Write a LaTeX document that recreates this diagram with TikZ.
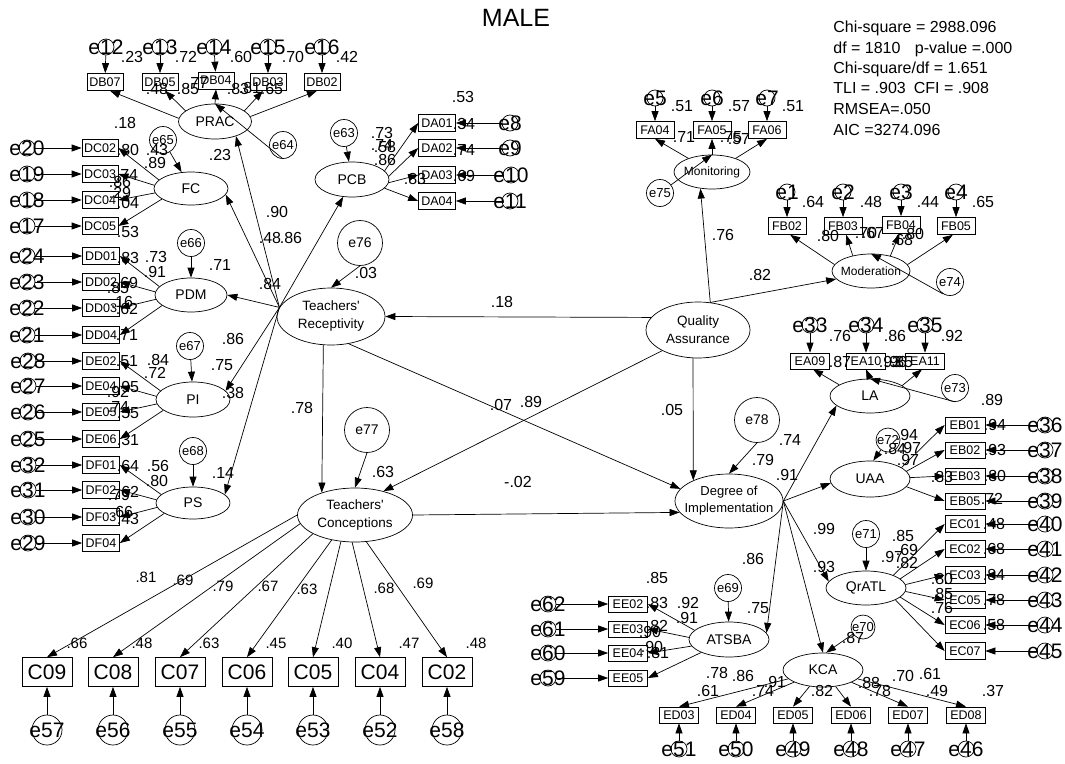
\documentclass[tikz,border=0pt]{standalone}
\usepackage{fontspec}
\setmainfont{Liberation Sans}
\usetikzlibrary{arrows.meta,shapes.geometric}

% error term: small circle with a large label over it
\newcommand{\semerr}[3]{\node[errs] (#1) at (#2,#3) {};\node[etx] (#1t) at (#2,#3) {#1};}
\newcommand{\semerrb}[3]{\node[errb] (#1) at (#2,#3) {};\node[etx] (#1t) at (#2,#3) {#1};}
% latent variable: ellipse plus centred caption
\newcommand{\semlat}[7]{\node[lat={#4pt}{#5pt}] (#1) at (#2,#3) {};\node[ltx,#6] (#1t) at (#1) {#7};}
% estimate labels
\newcounter{semlbl}
\newcommand{\semnum}[3]{\stepcounter{semlbl}\node[nm] (lbl\arabic{semlbl}) at (#1,#2) {#3};}
\newcommand{\semnums}[3]{\stepcounter{semlbl}\node[nms] (lbl\arabic{semlbl}) at (#1,#2) {#3};}

\begin{document}
\begin{tikzpicture}[x=1pt,y=-1pt,line width=0.7pt,
  box/.style={draw, rectangle, inner sep=0pt, minimum width=37pt, minimum height=17pt, font=\fontsize{12.5}{13}\selectfont},
  cbox/.style={draw, rectangle, inner sep=0pt, minimum width=50pt, minimum height=29pt, font=\fontsize{21}{22}\selectfont},
  lat/.style 2 args={draw, ellipse, inner sep=0pt, minimum width=#1, minimum height=#2},
  ltx/.style={inner sep=0pt, align=center, font=\fontsize{14}{18}\selectfont},
  two/.style={font=\fontsize{13.5}{18}\selectfont},
  twos/.style={font=\fontsize{13}{17}\selectfont},
  sml/.style={font=\fontsize{12}{14}\selectfont},
  errs/.style={draw, circle, inner sep=0pt, minimum size=16pt},
  errb/.style={draw, circle, inner sep=0pt, minimum size=30pt},
  etx/.style={inner sep=0pt, font=\fontsize{21}{21}\selectfont},
  rerr/.style={draw, circle, inner sep=0pt, minimum size=27pt, font=\fontsize{13}{13}\selectfont},
  berr/.style={draw, circle, inner sep=0pt, minimum size=45pt, font=\fontsize{14}{14}\selectfont},
  nm/.style={inner sep=0pt, font=\fontsize{16}{16}\selectfont},
  nms/.style={inner sep=0pt, font=\fontsize{15}{15}\selectfont},
  fit/.style={inner sep=0pt, anchor=base west, font=\fontsize{16}{16}\selectfont},
  arr/.style={-{Triangle[length=10pt,width=7pt]}}
]
\fill[white] (0,0) rectangle (1065,763);
\useasboundingbox (0,0) rectangle (1065,763);

% ---------- title and fit indices ----------
\node[inner sep=0pt, font=\fontsize{25}{25}\selectfont] (title) at (516,18) {MALE};
\node[fit] (fit1) at (833,32) {Chi-square = 2988.096};
\node[fit] (fit2) at (833,53) {df = 1810\hspace{0.9em}p-value =.000};
\node[fit] (fit3) at (833,73) {Chi-square/df = 1.651};
\node[fit] (fit4) at (833,93) {TLI = .903\hspace{0.5em}CFI = .908};
\node[fit] (fit5) at (833,114) {RMSEA=.050};
\node[fit] (fit6) at (833,135) {AIC =3274.096};

% ---------- PRAC ----------
\semlat{PRAC}{215}{121.5}{73}{35}{}{PRAC}
\node[box,minimum width=36pt] (DB07) at (105,82) {DB07};
\node[box,minimum width=36pt] (DB05) at (160,82) {DB05};
\node[box,minimum width=36pt] (DB04) at (216,80.5) {DB04};
\node[box,minimum width=36pt] (DB03) at (268,82) {DB03};
\node[box,minimum width=36pt] (DB02) at (322,82) {DB02};
\semerr{e12}{106}{47}\semerr{e13}{160}{47}\semerr{e14}{214}{47}\semerr{e15}{268}{47}\semerr{e16}{322}{47}
\node[rerr] (e64) at (283,145) {e64};
\draw[arr] (e12) -- (DB07); \draw[arr] (e13) -- (DB05); \draw[arr] (e14) -- (DB04);
\draw[arr] (e15) -- (DB03); \draw[arr] (e16) -- (DB02);
\draw[arr] (PRAC.175) -- (DB07.300);
\draw[arr] (PRAC.160) -- (DB05.300);
\draw[arr] (PRAC.north) -- (DB04.south);
\draw[arr] (PRAC.20) -- (DB03.240);
\draw[arr] (PRAC.8) -- (DB02.240);
\draw[arr] (e64.south) -- (PRAC.north);

% ---------- FC ----------
\semlat{FC}{191}{188.5}{74}{33}{}{FC}
\node[rerr] (e65) at (163,140) {e65};
\node[box,minimum width=36pt] (DC02) at (100,148) {DC02};
\node[box,minimum width=36pt] (DC03) at (100,174) {DC03};
\node[box,minimum width=36pt] (DC04) at (100,200) {DC04};
\node[box,minimum width=36pt] (DC05) at (100,226) {DC05};
\semerr{e20}{27}{148}\semerr{e19}{27}{174}\semerr{e18}{27}{200}\semerr{e17}{27}{226}
\draw[arr] (e20) -- (DC02); \draw[arr] (e19) -- (DC03); \draw[arr] (e18) -- (DC04); \draw[arr] (e17) -- (DC05);
\draw[arr] (FC.165) -- (DC02.east); \draw[arr] (FC.175) -- (DC03.east);
\draw[arr] (FC.187) -- (DC04.east); \draw[arr] (FC.200) -- (DC05.east);
\draw[arr] (e65) -- (FC);

% ---------- PDM ----------
\semlat{PDM}{191}{295}{72}{34}{}{PDM}
\node[rerr] (e66) at (191,243) {e66};
\node[box] (DD01) at (101,256) {DD01};
\node[box] (DD02) at (101,282) {DD02};
\node[box] (DD03) at (101,308) {DD03};
\node[box] (DD04) at (101,335) {DD04};
\semerr{e24}{27}{256}\semerr{e23}{27}{282}\semerr{e22}{27}{308}\semerr{e21}{27}{335}
\draw[arr] (e24) -- (DD01); \draw[arr] (e23) -- (DD02); \draw[arr] (e22) -- (DD03); \draw[arr] (e21) -- (DD04);
\draw[arr] (PDM.165) -- (DD01.east); \draw[arr] (PDM.175) -- (DD02.east);
\draw[arr] (PDM.187) -- (DD03.east); \draw[arr] (PDM.200) -- (DD04.east);
\draw[arr] (e66) -- (PDM);

% ---------- PI ----------
\semlat{PI}{193}{399.5}{74}{35}{}{PI}
\node[rerr] (e67) at (190,346) {e67};
\node[box] (DE02) at (101,361) {DE02};
\node[box] (DE04) at (101,386) {DE04};
\node[box] (DE05) at (101,412) {DE05};
\node[box] (DE06) at (101,439) {DE06};
\semerr{e28}{28}{361}\semerr{e27}{28}{386}\semerr{e26}{28}{412}\semerr{e25}{28}{439}
\draw[arr] (e28) -- (DE02); \draw[arr] (e27) -- (DE04); \draw[arr] (e26) -- (DE05); \draw[arr] (e25) -- (DE06);
\draw[arr] (PI.165) -- (DE02.east); \draw[arr] (PI.175) -- (DE04.east);
\draw[arr] (PI.187) -- (DE05.east); \draw[arr] (PI.200) -- (DE06.east);
\draw[arr] (e67) -- (PI);

% ---------- PS ----------
\semlat{PS}{193}{503}{74}{32}{}{PS}
\node[rerr] (e68) at (193,451) {e68};
\node[box] (DF01) at (101,465) {DF01};
\node[box] (DF02) at (101,490) {DF02};
\node[box] (DF03) at (101,517) {DF03};
\node[box] (DF04) at (101,543) {DF04};
\semerr{e32}{28}{465}\semerr{e31}{28}{490}\semerr{e30}{28}{517}\semerr{e29}{28}{543}
\draw[arr] (e32) -- (DF01); \draw[arr] (e31) -- (DF02); \draw[arr] (e30) -- (DF03); \draw[arr] (e29) -- (DF04);
\draw[arr] (PS.165) -- (DF01.east); \draw[arr] (PS.175) -- (DF02.east);
\draw[arr] (PS.187) -- (DF03.east); \draw[arr] (PS.200) -- (DF04.east);
\draw[arr] (e68) -- (PS);

% ---------- PCB ----------
\semlat{PCB}{352}{179.5}{74}{35}{}{PCB}
\node[rerr] (e63) at (344,133) {e63};
\node[box] (DA01) at (437,123) {DA01};
\node[box] (DA02) at (437,148) {DA02};
\node[box] (DA03) at (437,175) {DA03};
\node[box] (DA04) at (437,201) {DA04};
\semerr{e8}{510}{123}\semerr{e9}{510}{148}\semerr{e10}{511}{175}\semerr{e11}{510}{201}
\draw[arr] (e8) -- (DA01); \draw[arr] (e9) -- (DA02); \draw[arr] (e10) -- (DA03); \draw[arr] (e11) -- (DA04);
\draw[arr] (PCB.15) -- (DA01.west); \draw[arr] (PCB.5) -- (DA02.west);
\draw[arr] (PCB.355) -- (DA03.west); \draw[arr] (PCB.345) -- (DA04.west);
\draw[arr] (e63) -- (PCB);

% ---------- second order and structural part ----------
\semlat{TR}{331}{316.5}{108}{57}{two}{Teachers\textquotesingle\\Receptivity}
\semlat{TC}{355}{515}{115}{54}{two}{Teachers\textquotesingle\\Conceptions}
\semlat{QA}{698}{330}{104}{56}{two}{Quality\\Assurance}
\semlat{DoI}{729}{501}{108}{54}{twos}{Degree of\\Implementation}
\node[berr] (e76) at (360,243) {e76};
\node[berr] (e77) at (367,430) {e77};
\node[berr] (e78) at (757,420) {e78};

\draw[arr] (TR.170) -- (PRAC.325);
\draw[arr] (TR.170) -- (FC.350);
\draw[arr] (TR.170) -- (PDM.east);
\draw[arr] (TR.170) -- (PI.15);
\draw[arr] (TR.170) -- (PS.15);
\draw[arr] (TR.170) -- (PCB.243);
\draw[arr] (e76.south) -- (TR.north);
\draw[arr] (QA.165) -- (TR.east);
\draw[arr] (TR.255) -- (TC.146);
\draw[arr] (TR.303) -- (DoI.166);
\draw[arr] (QA.210) -- (TC.40);
\draw[arr] (QA.260) -- (DoI.150);
\draw[arr] (TC.east) -- (DoI.193);
\draw[arr] (e77.south) -- (TC.north);
\draw[arr] (e78.south) -- (DoI.north);

% ---------- Monitoring ----------
\semlat{Monitoring}{712}{172}{76}{34}{sml}{Monitoring}
\node[rerr] (e75) at (660,193) {e75};
\node[box,minimum width=38pt] (FA04) at (655,130) {FA04};
\node[box,minimum width=38pt] (FA05) at (712,130) {FA05};
\node[box,minimum width=38pt] (FA06) at (767,130) {FA06};
\semerr{e5}{655}{98}\semerr{e6}{712}{98}\semerr{e7}{767}{98}
\draw[arr] (e5) -- (FA04); \draw[arr] (e6) -- (FA05); \draw[arr] (e7) -- (FA06);
\draw[arr] (Monitoring.150) -- (FA04.south);
\draw[arr] (Monitoring.north) -- (FA05.south);
\draw[arr] (Monitoring.30) -- (FA06.south);
\draw[arr] (e75) -- (Monitoring.north);
\draw[arr] (QA.66) -- (Monitoring.235);

% ---------- Moderation ----------
\semlat{Moderation}{871}{271}{78}{34}{sml}{Moderation}
\node[rerr] (e74) at (950,282) {e74};
\node[box,minimum width=38pt] (FB02) at (787,226) {FB02};
\node[box,minimum width=38pt] (FB03) at (843,226) {FB03};
\node[box,minimum width=38pt] (FB04) at (901,225) {FB04};
\node[box,minimum width=38pt] (FB05) at (956,226) {FB05};
\semerr{e1}{787}{192}\semerr{e2}{843}{192}\semerr{e3}{901}{192}\semerr{e4}{956}{192}
\draw[arr] (e1) -- (FB02); \draw[arr] (e2) -- (FB03); \draw[arr] (e3) -- (FB04); \draw[arr] (e4) -- (FB05);
\draw[arr] (Moderation.170) -- (FB02.290);
\draw[arr] (Moderation.140) -- (FB03.290);
\draw[arr] (Moderation.38) -- (FB04.260);
\draw[arr] (Moderation.10) -- (FB05.250);
\draw[arr] (e74.240) -- (Moderation.north);
\draw[arr] (QA.66) -- (Moderation.193);

% ---------- LA ----------
\semlat{LA}{870}{396}{80}{34}{}{LA}
\node[rerr] (e73) at (955,388) {e73};
\node[box,minimum width=39pt,minimum height=16pt] (EA09) at (810,361) {EA09};
\node[box,minimum width=39pt,minimum height=16pt] (EA10) at (866,361) {EA10};
\node[box,minimum width=39pt,minimum height=16pt] (EA11) at (925,361) {EA11};
\semerr{e33}{810}{325}\semerr{e34}{866}{325}\semerr{e35}{925}{325}
\draw[arr] (e33) -- (EA09); \draw[arr] (e34) -- (EA10); \draw[arr] (e35) -- (EA11);
\draw[arr] (LA.160) -- (EA09.290);
\draw[arr] (LA.north) -- (EA10.south);
\draw[arr] (LA.18) -- (EA11.250);
\draw[arr] (e73.south) -- (LA.north);

% ---------- UAA ----------
\semlat{UAA}{870}{479}{80}{36}{}{UAA}
\node[rerr,minimum size=24pt] (e72) at (888,440) {e72};
\node[box,minimum width=40pt,minimum height=16pt] (EB01) at (965,425) {EB01};
\node[box,minimum width=40pt,minimum height=16pt] (EB02) at (965,450) {EB02};
\node[box,minimum width=40pt,minimum height=16pt] (EB03) at (965,476) {EB03};
\node[box,minimum width=40pt,minimum height=16pt] (EB05) at (965,501) {EB05};
\semerr{e36}{1045}{425}\semerr{e37}{1045}{450}\semerr{e38}{1045}{476}\semerr{e39}{1045}{501}
\draw[arr] (e36) -- (EB01); \draw[arr] (e37) -- (EB02); \draw[arr] (e38) -- (EB03); \draw[arr] (e39) -- (EB05);
\draw[arr] (UAA.20) -- (EB01.west); \draw[arr] (UAA.12) -- (EB02.west);
\draw[arr] (UAA.2) -- (EB03.west); \draw[arr] (UAA.348) -- (EB05.west);
\draw[arr] (e72) -- (UAA.80);

% ---------- QrATL ----------
\semlat{QrATL}{866}{588}{80}{34}{}{QrATL}
\node[rerr] (e71) at (866,534) {e71};
\node[box,minimum width=40pt] (EC01) at (965,524) {EC01};
\node[box,minimum width=40pt] (EC02) at (965,549) {EC02};
\node[box,minimum width=40pt] (EC03) at (965,575) {EC03};
\node[box,minimum width=40pt] (EC05) at (965,600) {EC05};
\node[box,minimum width=40pt] (EC06) at (965,625) {EC06};
\node[box,minimum width=40pt] (EC07) at (965,651) {EC07};
\semerr{e40}{1045}{524}\semerr{e41}{1045}{549}\semerr{e42}{1045}{575}
\semerr{e43}{1045}{600}\semerr{e44}{1045}{625}\semerr{e45}{1045}{651}
\draw[arr] (e40) -- (EC01); \draw[arr] (e41) -- (EC02); \draw[arr] (e42) -- (EC03);
\draw[arr] (e43) -- (EC05); \draw[arr] (e44) -- (EC06); \draw[arr] (e45) -- (EC07);
\draw[arr] (QrATL.25) -- (EC01.west); \draw[arr] (QrATL.15) -- (EC02.west);
\draw[arr] (QrATL.5) -- (EC03.west); \draw[arr] (QrATL.355) -- (EC05.west);
\draw[arr] (QrATL.345) -- (EC06.west); \draw[arr] (QrATL.338) -- (EC07.west);
\draw[arr] (e71) -- (QrATL);

% ---------- ATSBA ----------
\semlat{ATSBA}{729}{639.5}{80}{35}{}{ATSBA}
\node[rerr] (e69) at (728,588) {e69};
\node[box,minimum width=39pt,minimum height=16pt] (EE02) at (628,604) {EE02};
\node[box,minimum width=39pt,minimum height=16pt] (EE03) at (628,629) {EE03};
\node[box,minimum width=39pt,minimum height=16pt] (EE04) at (628,653) {EE04};
\node[box,minimum width=39pt,minimum height=16pt] (EE05) at (628,678) {EE05};
\semerr{e62}{548}{604}\semerr{e61}{548}{629}\semerr{e60}{548}{653}\semerr{e59}{548}{678}
\draw[arr] (e62) -- (EE02); \draw[arr] (e61) -- (EE03); \draw[arr] (e60) -- (EE04); \draw[arr] (e59) -- (EE05);
\draw[arr] (ATSBA.165) -- (EE02.east); \draw[arr] (ATSBA.177) -- (EE03.east);
\draw[arr] (ATSBA.190) -- (EE04.east); \draw[arr] (ATSBA.205) -- (EE05.east);
\draw[arr] (e69) -- (ATSBA);

% ---------- KCA ----------
\semlat{KCA}{823}{670}{80}{34}{}{KCA}
\node[rerr,minimum size=24pt] (e70) at (863,627) {e70};
\node[box,minimum width=39pt,minimum height=16pt] (ED03) at (679,715) {ED03};
\node[box,minimum width=39pt,minimum height=16pt] (ED04) at (736,715) {ED04};
\node[box,minimum width=39pt,minimum height=16pt] (ED05) at (793,715) {ED05};
\node[box,minimum width=39pt,minimum height=16pt] (ED06) at (851,715) {ED06};
\node[box,minimum width=39pt,minimum height=16pt] (ED07) at (908,715) {ED07};
\node[box,minimum width=39pt,minimum height=16pt] (ED08) at (966,715) {ED08};
\semerr{e51}{679}{749}\semerr{e50}{736}{749}\semerr{e49}{793}{749}
\semerr{e48}{851}{749}\semerr{e47}{908}{749}\semerr{e46}{966}{749}
\draw[arr] (e51) -- (ED03); \draw[arr] (e50) -- (ED04); \draw[arr] (e49) -- (ED05);
\draw[arr] (e48) -- (ED06); \draw[arr] (e47) -- (ED07); \draw[arr] (e46) -- (ED08);
\draw[arr] (KCA) -- (ED03.north); \draw[arr] (KCA) -- (ED04.north); \draw[arr] (KCA) -- (ED05.north);
\draw[arr] (KCA) -- (ED06.north); \draw[arr] (KCA) -- (ED07.north); \draw[arr] (KCA) -- (ED08.north);
\draw[arr] (e70) -- (KCA.80);

% ---------- Degree of Implementation to its dimensions ----------
\draw[arr] (DoI.east) -- (LA.196);
\draw[arr] (DoI.east) -- (UAA.186);
\draw[arr] (DoI.east) -- (QrATL.170);
\draw[arr] (DoI.east) -- (ATSBA.10);
\draw[arr] (DoI.east) -- (KCA.north);

% ---------- Teachers' Conceptions indicators ----------
\node[cbox] (C09) at (47,672) {C09};
\node[cbox] (C08) at (113,672) {C08};
\node[cbox] (C07) at (180,672) {C07};
\node[cbox] (C06) at (247,672) {C06};
\node[cbox] (C05) at (313,672) {C05};
\node[cbox] (C04) at (380,672) {C04};
\node[cbox] (C02) at (447,672) {C02};
\semerrb{e57}{47}{730}\semerrb{e56}{113}{730}\semerrb{e55}{180}{730}\semerrb{e54}{247}{730}
\semerrb{e53}{313}{730}\semerrb{e52}{380}{730}\semerrb{e58}{447}{730}
\draw[arr] (e57) -- (C09); \draw[arr] (e56) -- (C08); \draw[arr] (e55) -- (C07); \draw[arr] (e54) -- (C06);
\draw[arr] (e53) -- (C05); \draw[arr] (e52) -- (C04); \draw[arr] (e58) -- (C02);
\draw[arr] (TC.180) -- (C09.north);
\draw[arr] (TC.189) -- (C08.north);
\draw[arr] (TC.204) -- (C07.north);
\draw[arr] (TC.227) -- (C06.north);
\draw[arr] (TC.242) -- (C05.north);
\draw[arr] (TC.264) -- (C04.north);
\draw[arr] (TC.293) -- (C02.north);

% ---------- estimates ----------
% PRAC
\semnum{132}{57}{.23}\semnum{186}{57}{.72}\semnum{241}{57}{.60}\semnum{293}{57}{.70}\semnum{347}{57}{.42}
\semnum{157}{89}{.48}\semnum{188}{89}{.85}\semnum{197}{83}{.77}\semnum{238}{89}{.83}\semnum{250}{88}{.81}\semnum{272}{89}{.65}
\semnum{125}{123}{.18}\semnum{220}{155}{.23}
% FC
\semnum{128}{150}{.80}\semnum{157}{150}{.43}\semnum{155}{163}{.89}\semnum{127}{175}{.74}\semnum{120}{182}{.86}
\semnum{120}{193}{.29}\semnum{128}{203}{.04}\semnum{128}{232}{.53}
\semnum{277}{212}{.90}\semnum{270}{238}{.48}\semnum{291}{238}{.86}\semnum{270}{284}{.84}
% PDM
\semnum{156}{257}{.73}\semnum{155}{272}{.91}\semnum{220}{265}{.71}\semnum{128}{258}{.83}\semnum{127}{283}{.69}
\semnum{118}{288}{.85}\semnum{122}{302}{.16}\semnum{127}{309}{.62}\semnum{127}{335}{.71}
% PI
\semnum{233}{339}{.86}\semnum{222}{365}{.75}\semnum{127}{361}{.51}\semnum{158}{360}{.84}\semnum{155}{373}{.72}
\semnum{118}{392}{.92}\semnum{128}{387}{.95}\semnum{233}{393}{.38}\semnum{118}{407}{.74}\semnum{128}{413}{.55}\semnum{128}{440}{.31}
% PS
\semnum{158}{466}{.56}\semnum{157}{481}{.80}\semnum{223}{473}{.14}\semnum{128}{466}{.64}\semnum{128}{492}{.62}
\semnum{119}{495}{.79}\semnum{122}{512}{.66}\semnum{128}{519}{.43}
\semnum{302}{408}{.78}
% PCB
\semnum{463}{97}{.53}\semnum{382}{133}{.73}\semnum{382}{145}{.74}\semnum{385}{147}{.58}\semnum{385}{160}{.86}
\semnum{415}{179}{.83}\semnum{464}{124}{.34}\semnum{464}{150}{.74}\semnum{464}{176}{.69}
% structural part
\semnum{366}{273}{.03}\semnum{502}{302}{.18}\semnum{501}{405}{.07}\semnum{531}{402}{.89}\semnum{672}{410}{.05}
\semnum{723}{235}{.76}\semnum{760}{275}{.82}\semnum{518}{482}{-.02}\semnum{383}{472}{.63}\semnum{763}{460}{.79}
\semnum{790}{440}{.74}\semnum{787}{475}{.91}
% Monitoring
\semnum{682}{106}{.51}\semnum{739}{106}{.57}\semnum{793}{106}{.51}\semnum{684}{137}{.71}\semnum{731}{137}{.75}\semnum{739}{139}{.57}
% Moderation
\semnum{813}{202}{.64}\semnum{871}{202}{.48}\semnum{928}{202}{.44}\semnum{983}{202}{.65}
\semnum{828}{236}{.80}\semnum{866}{233}{.70}\semnum{873}{233}{.67}\semnum{902}{240}{.68}\semnum{913}{234}{.80}
% LA
\semnum{840}{336}{.76}\semnum{895}{336}{.86}\semnum{952}{336}{.92}\semnum{840}{362}{.87}
\semnum{890}{362}{.93}\semnum{896}{362}{.96}\semnum{902}{362}{.85}\semnum{992}{400}{.89}
% UAA
\semnum{907}{435}{.94}\semnum{895}{449}{.84}\semnum{910}{448}{.97}\semnum{908}{460}{.97}\semnum{942}{477}{.83}
\semnum{995}{425}{.94}\semnum{995}{450}{.93}\semnum{995}{476}{.80}\semnum{992}{499}{.72}
% QrATL
\semnum{903}{536}{.85}\semnum{907}{550}{.69}\semnum{892}{557}{.97}\semnum{907}{563}{.82}
\semnum{942}{579}{.80}\semnum{942}{594}{.85}\semnum{942}{608}{.76}
\semnum{994}{524}{.48}\semnum{994}{549}{.68}\semnum{994}{575}{.84}\semnum{994}{600}{.78}\semnum{994}{625}{.58}
\semnum{824}{529}{.99}\semnum{824}{567}{.93}\semnum{753}{559}{.86}\semnum{758}{608}{.75}
% ATSBA
\semnum{657}{578}{.85}\semnum{688}{603}{.92}\semnum{687}{618}{.91}\semnum{657}{603}{.83}\semnum{657}{626}{.82}
\semnum{650}{632}{.90}\semnum{652}{647}{.90}\semnum{658}{653}{.81}
% KCA
\semnum{853}{638}{.87}\semnum{717}{673}{.78}\semnum{743}{676}{.86}\semnum{708}{691}{.61}\semnum{775}{682}{.91}
\semnum{763}{691}{.74}\semnum{822}{691}{.82}\semnum{869}{683}{.88}\semnum{880}{691}{.78}\semnum{903}{676}{.70}
\semnum{930}{674}{.61}\semnum{937}{691}{.49}\semnum{993}{691}{.37}
% Teachers' Conceptions
\semnums{146}{577}{.81}\semnums{183}{580}{.69}\semnums{223}{586}{.79}\semnums{268}{586}{.67}
\semnums{307}{589}{.63}\semnums{384}{588}{.68}\semnums{423}{583}{.69}
\semnums{77}{643}{.66}\semnums{142}{643}{.48}\semnums{209}{643}{.63}\semnums{276}{643}{.45}
\semnums{342}{643}{.40}\semnums{409}{643}{.47}\semnums{476}{643}{.48}
\end{tikzpicture}
\end{document}
